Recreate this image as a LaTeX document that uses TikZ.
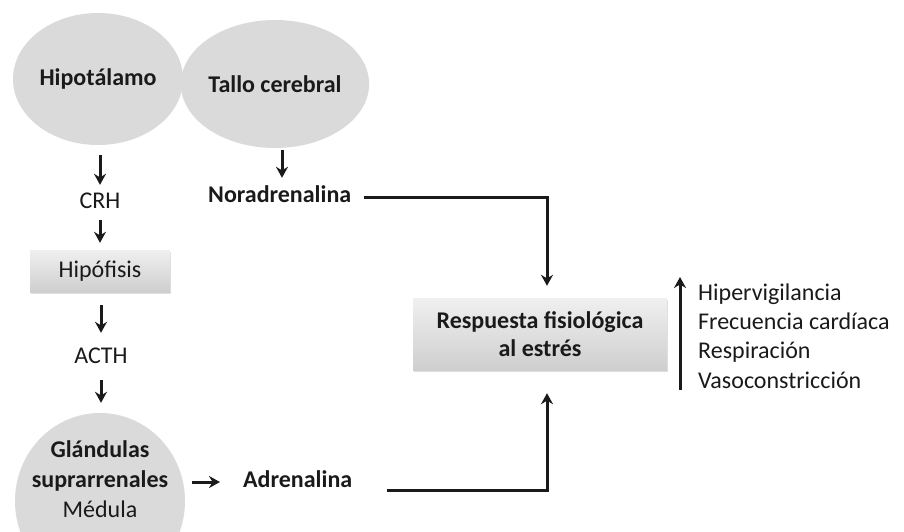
\documentclass[tikz,border=0pt]{standalone}
\usepackage{fontspec}
\setmainfont{Carlito}
\usetikzlibrary{shapes.geometric,arrows.meta,shadows}
\definecolor{txt}{HTML}{1A1A1A}
\definecolor{ellfill}{HTML}{DADADA}
\tikzset{
  fs/.style={font=\fontsize{24}{30}\selectfont},
  lbl/.style={fs,text=txt,inner sep=0pt,text height=15pt,text depth=4pt},
  blbl/.style={lbl,font=\fontsize{24}{30}\selectfont\bfseries},
  ell/.style={ellipse,inner sep=0pt,fill=ellfill,text=txt,align=center,
     font=\fontsize{24}{30}\selectfont\bfseries},
  gbox/.style={rectangle,inner sep=0pt,top color=gray!12,bottom color=gray!38,
     text=txt,align=center,
     drop shadow={opacity=0.25,shadow xshift=1pt,shadow yshift=-2pt}},
  arr/.style={draw=txt,line width=3pt,-{Stealth[length=11pt,width=12pt]}},
  ln/.style={draw=txt,line width=3pt}
}
\begin{document}
\begin{tikzpicture}[x=1pt,y=-1pt]
\useasboundingbox (0,0) rectangle (904,531);
\clip (0,0) rectangle (904,531);
% ellipses
\node[ell,minimum width=170pt,minimum height=132pt] (hipo) at (98,79) {Hipotálamo};
\node[ell,minimum width=170pt,minimum height=128pt] (tallo) at (275,84) {Tallo cerebral};
\node[ell,minimum width=170pt,minimum height=176pt] (gland) at (100,501) {};
\node[blbl] (g1) at (100,452) {Glándulas};
\node[blbl] (g2) at (100,482) {suprarrenales};
\node[lbl] (g3) at (100,512) {Médula};
% labels
\node[lbl] (crh) at (100,203) {CRH};
\node[gbox,fs,minimum width=140pt,minimum height=42pt] (hipof) at (100,271) {Hipófisis};
\node[lbl] (acth) at (101,358) {ACTH};
\node[blbl,anchor=west] (nor) at (208,197) {Noradrenalina};
\node[blbl,anchor=west] (adren) at (243,482) {Adrenalina};
\node[gbox,minimum width=254pt,minimum height=72pt,
  font=\fontsize{24}{28}\selectfont\bfseries] (resp) at (540,334)
  {Respuesta fisiológica\\al estrés};
\node[fs,text=txt,anchor=west,align=left,inner sep=0pt,
  font=\fontsize{24}{29.3}\selectfont] (list) at (698,336)
  {Hipervigilancia\\Frecuencia cardíaca\\Respiración\\Vasoconstricción};
% arrows
\draw[arr,shorten <=10pt,shorten >=8.5pt] (hipo.south -| crh.north) -- (crh.north);
\draw[arr,shorten <=7.5pt,shorten >=7pt] (crh.south) -- (hipof.north -| crh.south);
\draw[arr,shorten <=13pt,shorten >=15.5pt] (hipof.south -| acth.north) -- (acth.north);
\draw[arr,shorten <=12.5pt,shorten >=10pt] (acth.south) -- (gland.north -| acth.south);
\draw[arr,shorten <=2pt,shorten >=9.5pt] (tallo.south -| 282,0) -- (nor.north -| 282,0);
\draw[arr,shorten <=7pt] (gland.east |- g2.east) -- ([xshift=-23pt]adren.west);
\coordinate (njoin) at (547,197);
\coordinate (ajoin) at (547,490);
\draw[arr,shorten >=12pt] ([xshift=13pt]nor.east) -- (njoin) -- (njoin |- resp.north);
\draw[arr,shorten >=23pt] ([xshift=35pt,yshift=-8pt]adren.east) -- (ajoin) -- (ajoin |- resp.south);
\coordinate (upb) at (680,390);
\coordinate (upt) at (680,277);
\draw[arr] (upb) -- (upt);
\end{tikzpicture}
\end{document}
